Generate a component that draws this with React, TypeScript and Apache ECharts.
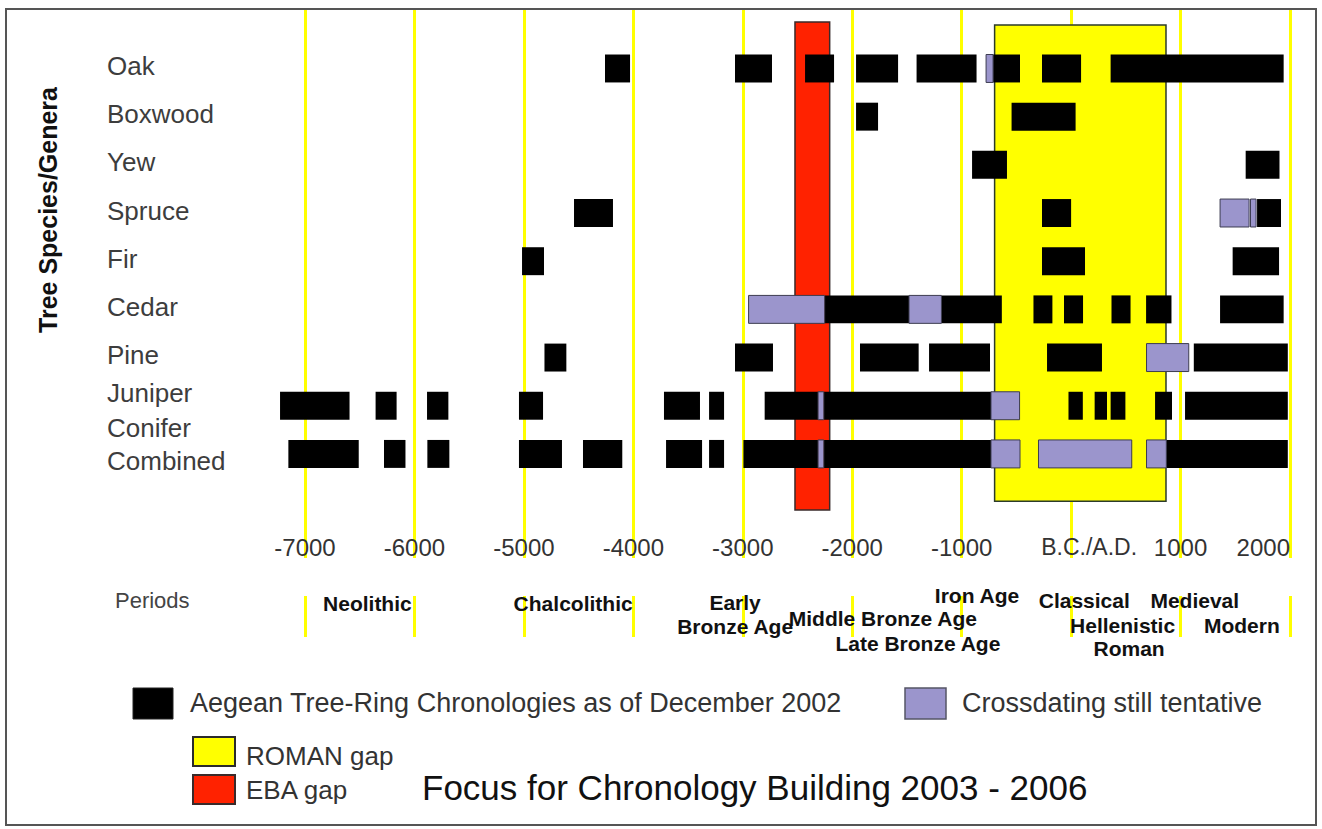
import React, { useEffect, useRef } from 'react';
import * as echarts from 'echarts';

const species = ['Oak', 'Boxwood', 'Yew', 'Spruce', 'Fir', 'Cedar', 'Pine', 'Juniper', 'Conifer Combined'];

const yearTicks = [-7000, -6000, -5000, -4000, -3000, -2000, -1000, 0, 1000, 2000];
const tickLabels = ['-7000', '-6000', '-5000', '-4000', '-3000', '-2000', '-1000', 'B.C./A.D.', '1000', '2000'];

// Aegean tree-ring chronologies as of December 2002 (black): [species, start, end]
const datedSpans: [string, number, number][] = [
  ['Oak', -4259, -4030], ['Oak', -3071, -2733], ['Oak', -2431, -2166], ['Oak', -1965, -1581],
  ['Oak', -1412, -864], ['Oak', -713, -467], ['Oak', -266, 91], ['Oak', 361, 1942],
  ['Boxwood', -1965, -1764], ['Boxwood', -544, 41],
  ['Yew', -905, -586], ['Yew', 1595, 1904],
  ['Spruce', -4542, -4186], ['Spruce', -266, 0], ['Spruce', 1699, 1918],
  ['Fir', -5017, -4816], ['Fir', -266, 127], ['Fir', 1476, 1900],
  ['Cedar', -2252, -1481], ['Cedar', -1185, -633], ['Cedar', -344, -171], ['Cedar', -65, 109],
  ['Cedar', 369, 543], ['Cedar', 685, 917], ['Cedar', 1361, 1942],
  ['Pine', -4812, -4612], ['Pine', -3071, -2724], ['Pine', -1929, -1393], ['Pine', -1298, -741],
  ['Pine', -220, 282], ['Pine', 1121, 1980],
  ['Juniper', -7228, -6593], ['Juniper', -6355, -6163], ['Juniper', -5885, -5690], ['Juniper', -5045, -4825],
  ['Juniper', -3720, -3391], ['Juniper', -3308, -3171], ['Juniper', -2800, -2312], ['Juniper', -2260, -732],
  ['Juniper', -24, 107], ['Juniper', 215, 328], ['Juniper', 361, 496], ['Juniper', 767, 922], ['Juniper', 1041, 1980],
  ['Conifer Combined', -7152, -6509], ['Conifer Combined', -6278, -6082], ['Conifer Combined', -5882, -5681],
  ['Conifer Combined', -5045, -4652], ['Conifer Combined', -4460, -4101], ['Conifer Combined', -3701, -3372],
  ['Conifer Combined', -3308, -3171], ['Conifer Combined', -2994, -2312], ['Conifer Combined', -2260, -732],
  ['Conifer Combined', 870, 1980],
];

// Crossdating still tentative (lavender): [species, start, end]
const tentativeSpans: [string, number, number][] = [
  ['Oak', -777, -713],
  ['Spruce', 1361, 1626], ['Spruce', 1639, 1690],
  ['Cedar', -2947, -2252], ['Cedar', -1481, -1185],
  ['Pine', 689, 1075],
  ['Juniper', -2312, -2260], ['Juniper', -732, -471],
  ['Conifer Combined', -2312, -2260], ['Conifer Combined', -732, -467],
  ['Conifer Combined', -298, 554], ['Conifer Combined', 689, 870],
];

// Focus for chronology building 2003 - 2006: [name, start, end]
const focusGaps: [string, number, number][] = [
  ['ROMAN gap', -699, 867],
  ['EBA gap', -2523, -2206],
];

// Periods: [name, label year, tier]
const periods: [string, number, number][] = [
  ['Neolithic', -6430, 0.1],
  ['Chalcolithic', -4550, 0.1],
  ['Early\nBronze Age', -3070, 0.6],
  ['Middle Bronze Age', -1720, 0.75],
  ['Late Bronze Age', -1400, 1.85],
  ['Iron Age', -860, -0.25],
  ['Classical', 120, 0],
  ['Hellenistic', 470, 1.05],
  ['Roman', 530, 2.05],
  ['Medieval', 1130, 0],
  ['Modern', 1560, 1.05],
];

const FONT = '"Liberation Sans", Arial, Helvetica, sans-serif';
const YELLOW = '#ffff00';
const LAVENDER = '#9b95cc';

export default function App() {
  const ref = useRef<HTMLDivElement>(null);

  useEffect(() => {
    if (!ref.current) return;
    const chart = echarts.init(ref.current, undefined, { renderer: 'svg' });

    const rowIndex = (name: string) => species.indexOf(name);
    const barRender = (fill: string, stroke: string | null) => (params: any, api: any) => {
      const row = api.value(0);
      const p0 = api.coord([api.value(1), row]);
      const p1 = api.coord([api.value(2), row]);
      const h = api.size([0, 1])[1] * 0.58;
      return {
        type: 'rect',
        shape: { x: p0[0], y: p0[1] - h / 2, width: p1[0] - p0[0], height: h },
        style: stroke ? { fill, stroke, lineWidth: 1 } : { fill },
      };
    };

    const xBase = {
      type: 'value' as const,
      min: -7000,
      max: 2000,
      interval: 1000,
    };

    const labelStyle = { fontFamily: FONT, fontSize: 26, color: '#3d3d3d' };

    const option: any = {
      animation: false,
      backgroundColor: '#ffffff',
      grid: [
        { left: 305, right: 32, top: 20.3, height: 481.8 },
        { left: 305, right: 32, top: 8, height: 550 },
        { left: 305, right: 32, top: 596, height: 41 },
      ],
      xAxis: [
        { ...xBase, gridIndex: 0, show: false },
        {
          ...xBase,
          gridIndex: 1,
          axisLine: { show: false },
          axisTick: { show: false },
          splitLine: { show: true, lineStyle: { color: YELLOW, width: 3 } },
          axisLabel: {
            show: true,
            margin: -11,
            verticalAlign: 'middle',
            alignMaxLabel: 'right',
            fontFamily: FONT,
            fontSize: 24,
            color: '#333333',
            formatter: (v: number) => {
              const i = yearTicks.indexOf(v);
              if (i < 0) return '';
              return v === 0 ? '{bc|' + tickLabels[i] + '}' : tickLabels[i];
            },
            rich: {
              bc: { fontFamily: FONT, fontSize: 23, color: '#333333', padding: [0, 0, 0, 36] },
            },
          },
        },
        {
          ...xBase,
          gridIndex: 2,
          axisLine: { show: false },
          axisTick: { show: false },
          axisLabel: { show: false },
          splitLine: { show: true, lineStyle: { color: YELLOW, width: 3 } },
        },
      ],
      yAxis: [
        {
          type: 'value',
          gridIndex: 0,
          min: -1,
          max: 9,
          interval: 1,
          inverse: true,
          axisLine: { show: false },
          axisTick: { show: false },
          splitLine: { show: false },
          axisLabel: {
            show: true,
            align: 'left',
            margin: 198,
            ...labelStyle,
            formatter: (v: number) => {
              const i = Math.round(v);
              if (i < 0 || i >= species.length) return '';
              const name = species[i];
              if (name === 'Juniper') return '{j|' + name + '}';
              if (name.indexOf(' ') > 0) {
                const parts = name.split(' ');
                return '{c|' + parts[0] + '}\n{c|' + parts[1] + '}\n{s|}';
              }
              return '{n|' + name + '}';
            },
            rich: {
              n: { ...labelStyle, padding: [0, 0, 5, 0] },
              j: { ...labelStyle, padding: [0, 0, 25, 0] },
              c: { ...labelStyle, lineHeight: 33, height: 33 },
              s: { ...labelStyle, fontSize: 2, lineHeight: 18, height: 18 },
            },
          },
        },
        { type: 'value', gridIndex: 1, show: false, min: 0, max: 1 },
        { type: 'value', gridIndex: 2, show: false, min: -0.217, max: 1.565, inverse: true },
      ],
      series: [
        {
          type: 'custom',
          name: 'Focus gaps',
          xAxisIndex: 0,
          yAxisIndex: 0,
          clip: false,
          z: 1,
          encode: { x: [1, 2], y: 0 },
          data: focusGaps.map((g, i) => [i, g[1], g[2]]),
          renderItem: (params: any, api: any) => {
            const i = api.value(0);
            const isRoman = focusGaps[i][0].indexOf('ROMAN') === 0;
            const span = isRoman ? [-0.9, 8.98] : [-0.965, 9.165];
            const a = api.coord([api.value(1), span[0]]);
            const b = api.coord([api.value(2), span[1]]);
            return {
              type: 'rect',
              shape: { x: a[0], y: a[1], width: b[0] - a[0], height: b[1] - a[1] },
              style: {
                fill: isRoman ? YELLOW : '#ff2200',
                stroke: isRoman ? '#2b3b2b' : '#3a2a2a',
                lineWidth: 1.5,
              },
            };
          },
        },
        {
          type: 'custom',
          name: 'Aegean Tree-Ring Chronologies as of December 2002',
          xAxisIndex: 0,
          yAxisIndex: 0,
          clip: false,
          z: 3,
          encode: { x: [1, 2], y: 0 },
          data: datedSpans.map((s) => [rowIndex(s[0]), s[1], s[2]]),
          renderItem: barRender('#000000', null),
        },
        {
          type: 'custom',
          name: 'Crossdating still tentative',
          xAxisIndex: 0,
          yAxisIndex: 0,
          clip: false,
          z: 4,
          encode: { x: [1, 2], y: 0 },
          data: tentativeSpans.map((s) => [rowIndex(s[0]), s[1], s[2]]),
          renderItem: barRender(LAVENDER, '#3c3c50'),
        },
        {
          type: 'custom',
          name: 'Periods',
          xAxisIndex: 2,
          yAxisIndex: 2,
          clip: false,
          z: 5,
          encode: { x: 1, y: 2 },
          data: periods.map((p, i) => [i, p[1], p[2]]),
          renderItem: (params: any, api: any) => {
            const i = api.value(0);
            const pt = api.coord([api.value(1), api.value(2)]);
            return {
              type: 'text',
              x: pt[0],
              y: pt[1],
              style: {
                text: periods[i][0],
                font: 'bold 21px ' + FONT,
                fill: '#111111',
                textAlign: 'center',
                align: 'center',
                textVerticalAlign: 'middle',
                verticalAlign: 'middle',
                lineHeight: 24,
              },
            };
          },
        },
      ],
      graphic: [
        {
          type: 'rect',
          silent: true,
          z: 100,
          shape: { x: 6, y: 9, width: 1310, height: 816 },
          style: { fill: 'none', stroke: '#555555', lineWidth: 2 },
        },
        {
          type: 'text',
          x: 48,
          y: 210,
          rotation: Math.PI / 2,
          style: {
            text: 'Tree Species/Genera',
            font: 'bold 25px ' + FONT,
            fill: '#111111',
            textAlign: 'center',
            textVerticalAlign: 'middle',
          },
        },
        {
          type: 'text',
          x: 115,
          y: 600,
          style: { text: 'Periods', font: '22px ' + FONT, fill: '#444444', textAlign: 'left', textVerticalAlign: 'middle' },
        },
        {
          type: 'rect',
          shape: { x: 133, y: 688, width: 40, height: 31 },
          style: { fill: '#000000', stroke: '#222222', lineWidth: 1 },
        },
        {
          type: 'text',
          x: 190,
          y: 703,
          style: {
            text: 'Aegean Tree-Ring Chronologies as of December 2002',
            font: '27px ' + FONT,
            fill: '#333333',
            textAlign: 'left',
            textVerticalAlign: 'middle',
          },
        },
        {
          type: 'rect',
          shape: { x: 905, y: 688, width: 41, height: 31 },
          style: { fill: LAVENDER, stroke: '#555566', lineWidth: 1.5 },
        },
        {
          type: 'text',
          x: 962,
          y: 703,
          style: {
            text: 'Crossdating still tentative',
            font: '27px ' + FONT,
            fill: '#333333',
            textAlign: 'left',
            textVerticalAlign: 'middle',
          },
        },
        {
          type: 'rect',
          shape: { x: 193, y: 737, width: 42, height: 29 },
          style: { fill: YELLOW, stroke: '#2b2b2b', lineWidth: 2 },
        },
        {
          type: 'text',
          x: 246,
          y: 756,
          style: { text: focusGaps[0][0], font: '26px ' + FONT, fill: '#333333', textAlign: 'left', textVerticalAlign: 'middle' },
        },
        {
          type: 'rect',
          shape: { x: 193, y: 775, width: 42, height: 29 },
          style: { fill: '#ff2200', stroke: '#3a2a2a', lineWidth: 2 },
        },
        {
          type: 'text',
          x: 246,
          y: 790,
          style: { text: focusGaps[1][0], font: '26px ' + FONT, fill: '#333333', textAlign: 'left', textVerticalAlign: 'middle' },
        },
        {
          type: 'text',
          x: 422,
          y: 787,
          style: {
            text: 'Focus for Chronology Building 2003 - 2006',
            font: '35px ' + FONT,
            fill: '#111111',
            textAlign: 'left',
            textVerticalAlign: 'middle',
          },
        },
      ],
    };

    chart.setOption(option);
    return () => chart.dispose();
  }, []);

  return (
    <div
      ref={ref}
      style={{ position: 'fixed', left: 0, top: 0, width: 1322, height: 829, background: '#ffffff' }}
    />
  );
}
